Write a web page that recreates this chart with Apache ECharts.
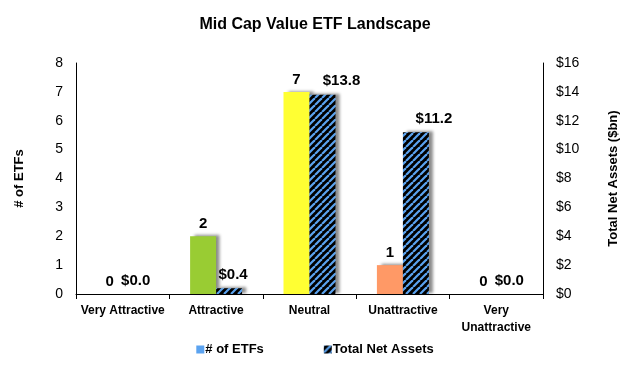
<!DOCTYPE html>
<html>
<head>
<meta charset="utf-8">
<script src="https://cdn.jsdelivr.net/npm/echarts@6/dist/echarts.min.js"></script>
<style>
html,body{margin:0;padding:0;background:#fff;}
#chart{width:630px;height:367px;}
</style>
</head>
<body>
<div id="chart"></div>
<script>
const categories = ['Very Attractive', 'Attractive', 'Neutral', 'Unattractive', 'Very\nUnattractive'];
const etfCounts = [0, 2, 7, 1, 0];
const netAssets = [0.0, 0.4, 13.8, 11.2, 0.0];
const leftTicks = { min: 0, max: 8, interval: 1 };
const rightTicks = { min: 0, max: 16, interval: 2 };

const barColors = ['#00A651', '#99CC33', '#FFFF33', '#FF9966', '#FF0000'];
const assetLabelShift = [0, 4, 19, 18, 0];
const FONT = '"Liberation Sans", Arial, sans-serif';

function makeHatch() {
  const s = 7;
  const c = document.createElement('canvas');
  c.width = s; c.height = s;
  const g = c.getContext('2d');
  g.fillStyle = '#000';
  g.fillRect(0, 0, s, s);
  g.strokeStyle = '#5BA3F0';
  g.lineWidth = 2.2;
  for (let k = -1; k <= 1; k++) {
    g.beginPath();
    g.moveTo(k * s, s);
    g.lineTo(k * s + s, 0);
    g.stroke();
  }
  return c;
}
const hatch = { image: makeHatch(), repeat: 'repeat' };

const shadow = {
  shadowColor: 'rgba(0,0,0,0.45)',
  shadowBlur: 3,
  shadowOffsetX: 4,
  shadowOffsetY: -1
};

const chart = echarts.init(document.getElementById('chart'), null, { renderer: 'canvas' });
chart.setOption({
  animation: false,
  backgroundColor: '#fff',
  textStyle: { fontFamily: FONT },
  title: {
    text: 'Mid Cap Value ETF Landscape',
    left: 'center',
    top: 12,
    textStyle: { fontFamily: FONT, fontSize: 16, fontWeight: 'bold', color: '#000' }
  },
  legend: {
    bottom: 6,
    left: 'center',
    itemWidth: 8,
    itemHeight: 8,
    itemGap: 60,
    textStyle: { fontFamily: FONT, fontSize: 13, fontWeight: 'bold', color: '#000', padding: [0, 0, 0, -4] },
    data: [
      { name: '# of ETFs', icon: 'rect' },
      { name: 'Total Net Assets', icon: 'rect' }
    ]
  },
  grid: { left: 76, right: 87, top: 63, bottom: 73 },
  xAxis: {
    type: 'category',
    data: categories,
    axisLine: { lineStyle: { color: '#000', width: 1 } },
    axisTick: { show: true, alignWithLabel: false, length: 5, lineStyle: { color: '#000' } },
    axisLabel: { color: '#000', fontFamily: FONT, fontSize: 12, fontWeight: 'bold', margin: 8, lineHeight: 17, interval: 0 }
  },
  yAxis: [
    {
      type: 'value',
      min: leftTicks.min, max: leftTicks.max, interval: leftTicks.interval,
      name: '# of ETFs',
      nameLocation: 'middle',
      nameRotate: 90,
      nameGap: 50,
      nameTextStyle: { fontFamily: FONT, fontSize: 13, fontWeight: 'bold', color: '#000' },
      axisLine: { show: true, lineStyle: { color: '#000' } },
      axisTick: { show: false },
      splitLine: { show: false },
      axisLabel: { color: '#000', fontFamily: FONT, fontSize: 14, margin: 13 }
    },
    {
      type: 'value',
      position: 'right',
      min: rightTicks.min, max: rightTicks.max, interval: rightTicks.interval,
      name: 'Total Net Assets ($bn)',
      nameLocation: 'middle',
      nameRotate: 90,
      nameGap: 64,
      nameTextStyle: { fontFamily: FONT, fontSize: 13, fontWeight: 'bold', color: '#000' },
      axisLine: { show: true, lineStyle: { color: '#000' } },
      axisTick: { show: false },
      splitLine: { show: false },
      axisLabel: { color: '#000', fontFamily: FONT, fontSize: 14, margin: 13, formatter: v => '$' + v }
    }
  ],
  series: [
    {
      name: '# of ETFs',
      type: 'bar',
      yAxisIndex: 0,
      barWidth: 26,
      barGap: '0%',
      itemStyle: Object.assign({ color: '#5BA3F0' }, shadow),
      data: etfCounts.map((v, i) => ({ value: v, itemStyle: { color: barColors[i] } })),
      label: {
        show: true, position: 'top', distance: 5,
        fontFamily: FONT, fontSize: 15, fontWeight: 'bold', color: '#000'
      }
    },
    {
      name: 'Total Net Assets',
      type: 'bar',
      yAxisIndex: 1,
      barWidth: 26,
      barGap: '0%',
      itemStyle: Object.assign({ color: hatch }, shadow),
      data: netAssets.map((v, i) => ({ value: v, label: { offset: [assetLabelShift[i], 0] } })),
      label: {
        show: true, position: 'top', distance: 6,
        fontFamily: FONT, fontSize: 15, fontWeight: 'bold', color: '#000',
        formatter: p => '$' + p.value.toFixed(1)
      }
    }
  ]
});
</script>
</body>
</html>
